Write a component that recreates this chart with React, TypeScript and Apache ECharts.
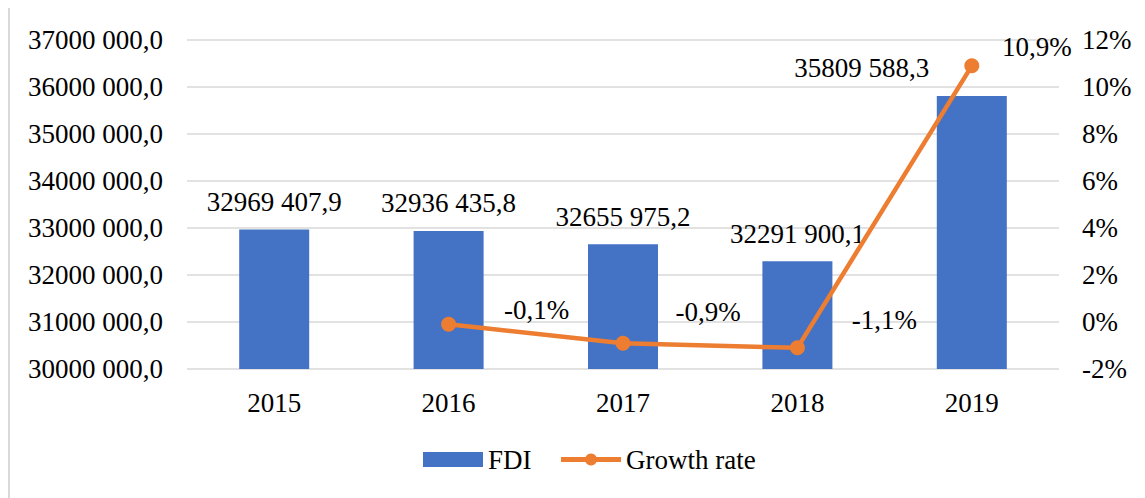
import React, { useEffect, useRef } from "react";
import * as echarts from "echarts";

const years = ["2015", "2016", "2017", "2018", "2019"];
const fdi = [32969407.9, 32936435.8, 32655975.2, 32291900.1, 35809588.3];
const growth: (number | null)[] = [null, -0.1, -0.9, -1.1, 10.9];
const growthLabels = ["", "-0,1%", "-0,9%", "-1,1%", "10,9%"];
const growthLabelOffsets: [number, number][] = [[0, 0], [88, -14], [85, -31], [87, -28], [65, -19]];
const barLabelOffsets: [number, number][] = [[0, 0], [0, 0], [0, 0], [0, 0], [-110, 0]];

const FONT = "'Liberation Serif', 'Times New Roman', serif";
const FS = 27;

function fmtNum(v: number): string {
  const neg = v < 0;
  const a = Math.abs(v);
  const s = a.toFixed(1);
  const [intPart, dec] = s.split(".");
  const n = parseInt(intPart, 10);
  const hi = Math.floor(n / 1000);
  const lo = String(n % 1000).padStart(3, "0");
  const head = hi > 0 ? `${hi} ${lo}` : `${n}`;
  return `${neg ? "-" : ""}${head},${dec}`;
}

export default function App() {
  const ref = useRef<HTMLDivElement>(null);
  useEffect(() => {
    if (!ref.current) return;
    const chart = echarts.init(ref.current, undefined, { renderer: "svg" });
    chart.setOption({
      animation: false,
      backgroundColor: "#ffffff",
      textStyle: { fontFamily: FONT },
      grid: { left: 187, right: 86, top: 40, bottom: 129, containLabel: false },
      legend: {
        bottom: 20,
        left: 418,
        itemWidth: 60,
        itemHeight: 15,
        itemGap: 27,
        textStyle: { fontFamily: FONT, fontSize: FS, color: "#000" },
        lineStyle: { width: 5 },
        data: [
          { name: "FDI", icon: "rect" },
          { name: "Growth rate" },
        ],
      },
      graphic: [
        {
          type: "line",
          shape: { x1: 9, y1: 8, x2: 9, y2: 498 },
          style: { stroke: "#d9d9d9", lineWidth: 2 },
        },
      ],
      xAxis: {
        type: "category",
        data: years,
        axisLine: { show: false },
        axisTick: { show: false },
        axisLabel: { fontFamily: FONT, fontSize: FS, color: "#000", margin: 20 },
      },
      yAxis: [
        {
          type: "value",
          min: 30000000,
          max: 37000000,
          interval: 1000000,
          axisLine: { show: false },
          axisTick: { show: false },
          splitLine: { lineStyle: { color: "#d9d9d9", width: 1.5 } },
          axisLabel: {
            fontFamily: FONT,
            fontSize: FS,
            color: "#000",
            margin: 24,
            formatter: (v: number) => fmtNum(v),
          },
        },
        {
          type: "value",
          min: -2,
          max: 12,
          interval: 2,
          axisLine: { show: false },
          axisTick: { show: false },
          splitLine: { show: false },
          axisLabel: {
            fontFamily: FONT,
            fontSize: FS,
            color: "#000",
            margin: 23,
            formatter: (v: number) => `${v}%`,
          },
        },
      ],
      series: [
        {
          name: "FDI",
          type: "bar",
          barWidth: 70,
          itemStyle: { color: "#4472C4" },
          data: fdi.map((v, i) => ({
            value: v,
            label: { offset: barLabelOffsets[i] },
          })),
          label: {
            show: true,
            position: "top",
            distance: 14,
            fontFamily: FONT,
            fontSize: FS,
            color: "#000",
            formatter: (p: any) => fmtNum(p.value),
          },
        },
        {
          name: "Growth rate",
          type: "line",
          yAxisIndex: 1,
          symbol: "circle",
          symbolSize: 15,
          showAllSymbol: true,
          lineStyle: { color: "#ED7D31", width: 4.5 },
          itemStyle: { color: "#ED7D31" },
          data: growth.map((v, i) => ({
            value: v,
            label: { offset: growthLabelOffsets[i] },
          })),
          label: {
            show: true,
            position: "inside",
            fontFamily: FONT,
            fontSize: FS,
            color: "#000",
            formatter: (p: any) => growthLabels[p.dataIndex],
          },
          z: 3,
        },
      ],
    });
    return () => chart.dispose();
  }, []);
  return (
    <div
      ref={ref}
      style={{ position: "fixed", left: 0, top: 0, width: 1145, height: 498 }}
    />
  );
}
